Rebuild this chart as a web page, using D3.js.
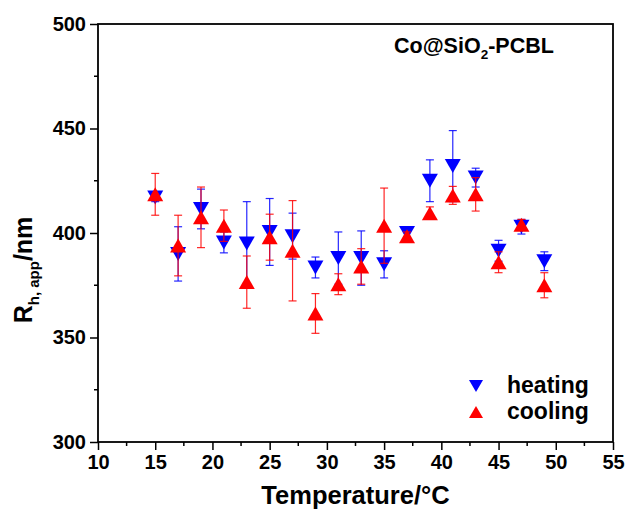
<!DOCTYPE html>
<html>
<head>
<meta charset="utf-8">
<script src="https://cdn.jsdelivr.net/npm/d3@7"></script>
<style>
  body { margin: 0; background: #fff; }
  text { font-family: Arial, "Liberation Sans", sans-serif; font-weight: bold; }
</style>
</head>
<body>
<script>
var w = 626;
var h = 519;

// temperatures (°C)
var temps = [15, 17, 19, 21, 23, 25, 27, 29, 31, 33, 35, 37, 39, 41, 43, 45, 47, 49];
// heating run, Rh,app (nm) and error
var heating = [417, 390, 411.5, 395.5, 395, 400.5, 398.5, 383.5, 388, 388, 385, 400, 425, 432, 426.5, 391.5, 403, 386.5];
var heatErr = [2, 13, 9.5, 5, 20, 16, 11, 5, 12.5, 13, 6.5, 2, 10, 17, 4.5, 5, 3.5, 4.5];
// cooling run
var cooling = [418.5, 394, 407.5, 403.5, 376.5, 398, 391.5, 361.5, 375.5, 384, 403.5, 398.5, 409.5, 418, 418.5, 386, 404, 375];
var coolErr = [10, 14.5, 14.5, 7.5, 12.5, 11, 24, 9.5, 5, 8.5, 18, 2, 3, 4.3, 8, 5, 2.5, 6];

var xTicks = [10, 15, 20, 25, 30, 35, 40, 45, 50, 55];
var yTicks = [300, 350, 400, 450, 500];

var m = {left: 98, right: 613, top: 24, bottom: 442};

var x = d3.scaleLinear().domain([10, 55]).range([m.left, m.right]);
var y = d3.scaleLinear().domain([300, 500]).range([m.bottom, m.top]);

var svg = d3.select("body").append("svg")
    .attr("width", w)
    .attr("height", h);

// triangle path, bbox centred
function tri(up, wd, ht) {
    var a = wd / 2, b = ht / 2;
    if (up) return "M0," + (-b) + "L" + a + "," + b + "L" + (-a) + "," + b + "Z";
    return "M0," + b + "L" + a + "," + (-b) + "L" + (-a) + "," + (-b) + "Z";
}

function series(vals, errs, color, up) {
    var d = temps.map(function(t, i) { return {t: t, v: vals[i], e: errs[i]}; });
    var g = svg.append("g");
    var eb = g.selectAll(".eb").data(d).enter().append("g")
        .attr("stroke", color).attr("stroke-width", 1.2).attr("stroke-opacity", 0.85);
    eb.append("line")
        .attr("x1", function(d) { return x(d.t); })
        .attr("x2", function(d) { return x(d.t); })
        .attr("y1", function(d) { return y(d.v + d.e); })
        .attr("y2", function(d) { return y(d.v - d.e); });
    [1, -1].forEach(function(s) {
        eb.append("line")
            .attr("x1", function(d) { return x(d.t) - 4; })
            .attr("x2", function(d) { return x(d.t) + 4; })
            .attr("y1", function(d) { return y(d.v + s * d.e); })
            .attr("y2", function(d) { return y(d.v + s * d.e); });
    });
    g.selectAll("path").data(d).enter().append("path")
        .attr("d", tri(up, 16, 14))
        .attr("fill", color)
        .attr("transform", function(d) { return "translate(" + x(d.t) + "," + y(d.v) + ")"; });
}

series(heating, heatErr, "#0000ff", false);
series(cooling, coolErr, "#ff0000", true);

// axes
var xAxis = svg.append("g")
    .attr("transform", "translate(0," + m.bottom + ")")
    .call(d3.axisBottom(x).tickValues(xTicks).tickSize(8).tickPadding(5).tickFormat(d3.format("d")));
xAxis.append("g").selectAll("line")
    .data(d3.range(12.5, 55, 5)).enter().append("line")
    .attr("x1", function(d) { return x(d); }).attr("x2", function(d) { return x(d); })
    .attr("y1", 0).attr("y2", 4).attr("stroke", "#000").attr("stroke-width", 1.5);

var yAxis = svg.append("g")
    .attr("transform", "translate(" + m.left + ",0)")
    .call(d3.axisLeft(y).tickValues(yTicks).tickSize(8).tickPadding(4).tickFormat(d3.format("d")));
yAxis.append("g").selectAll("line")
    .data(d3.range(325, 500, 50)).enter().append("line")
    .attr("y1", function(d) { return y(d); }).attr("y2", function(d) { return y(d); })
    .attr("x1", 0).attr("x2", -4).attr("stroke", "#000").attr("stroke-width", 1.5);

[xAxis, yAxis].forEach(function(a) {
    a.select(".domain").remove();
    a.selectAll(".tick line").attr("stroke-width", 1.5);
    a.selectAll("text").attr("font-size", 20).attr("fill", "#000")
        .style("font-family", "Arial, 'Liberation Sans', sans-serif").style("font-weight", "bold");
});

// frame
svg.append("rect")
    .attr("x", m.left).attr("y", m.top)
    .attr("width", m.right - m.left).attr("height", m.bottom - m.top)
    .attr("fill", "none").attr("stroke", "#000").attr("stroke-width", 1.8);

// axis titles
svg.append("text")
    .attr("x", (m.left + m.right) / 2).attr("y", 504)
    .attr("text-anchor", "middle").attr("font-size", 25.5)
    .text("Temperature/°C");

var yt = svg.append("text")
    .attr("transform", "translate(32,270) rotate(-90)")
    .attr("text-anchor", "middle").attr("font-size", 25);
yt.append("tspan").text("R");
yt.append("tspan").attr("font-size", 15).attr("dy", 7).text("h, app");
yt.append("tspan").attr("dy", -7).text("/nm");

// sample label
var lab = svg.append("text")
    .attr("x", 394).attr("y", 53).attr("font-size", 21.5);
lab.append("tspan").text("Co@SiO");
lab.append("tspan").attr("font-size", 13.5).attr("dy", 6).text("2");
lab.append("tspan").attr("dy", -6).text("-PCBL");

// legend
var legend = [{name: "heating", color: "#0000ff", up: false}, {name: "cooling", color: "#ff0000", up: true}];
var lg = svg.selectAll(".lg").data(legend).enter().append("g")
    .attr("transform", function(d, i) { return "translate(476," + (386 + i * 26) + ")"; });
lg.append("path")
    .attr("d", function(d) { return tri(d.up, 14, 12); })
    .attr("fill", function(d) { return d.color; });
lg.append("text")
    .attr("x", 31).attr("y", 7).attr("font-size", 23)
    .text(function(d) { return d.name; });
</script>
</body>
</html>
